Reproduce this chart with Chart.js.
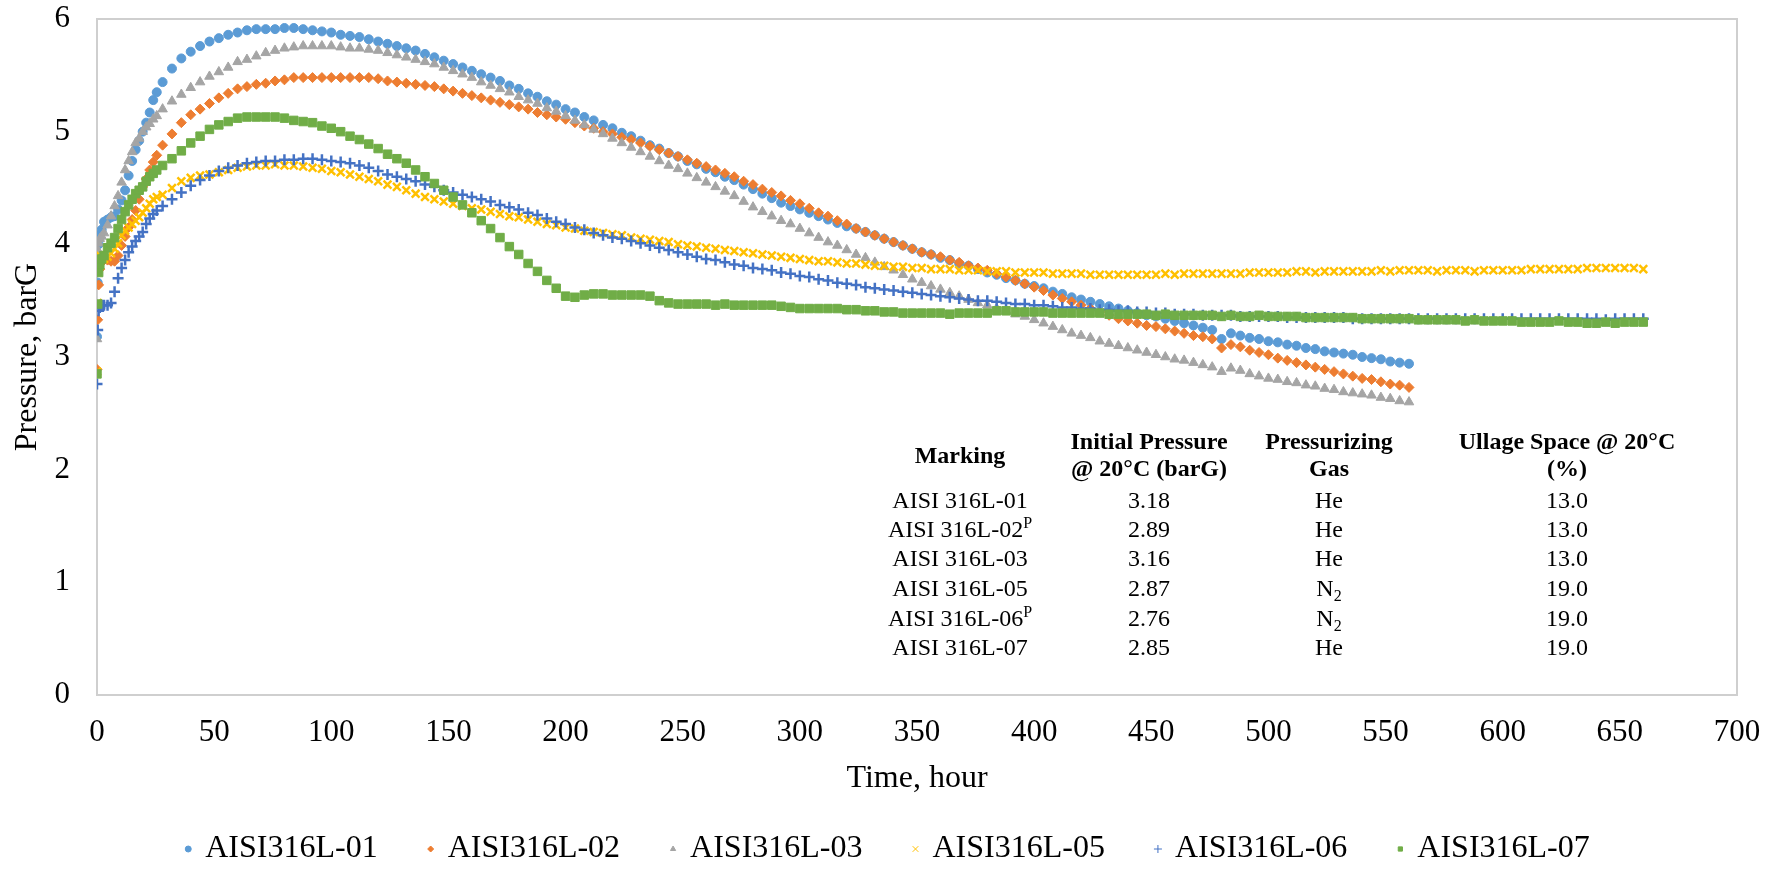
<!DOCTYPE html>
<html lang="en">
<head>
<meta charset="UTF-8">
<title>AISI 316L - Pressure vs Time</title>
<script src="https://cdn.jsdelivr.net/npm/chart.js"></script>
<style>
  html, body { margin: 0; padding: 0; background: #fff; }
  #wrap { width: 1778px; height: 872px; }
</style>
</head>
<body>
<div id="wrap"><canvas id="chart" width="1778" height="872"></canvas></div>
<script>
// sampling times in hours (shared by all series; 01-03 stop at 560 h)
const hours = [
  0, 0.3, 0.7, 1.2, 2, 3, 4.5, 6, 7.5, 9, 10.5, 12, 13.5, 15, 16.5, 18, 19.5, 21, 22.5, 24, 25.5,
  28, 32, 36, 40, 44, 48, 52, 56, 60, 64,
  68, 72, 76, 80, 84, 88, 92, 96, 100, 104,
  108, 112, 116, 120, 124, 128, 132, 136, 140, 144,
  148, 152, 156, 160, 164, 168, 172, 176, 180, 184,
  188, 192, 196, 200, 204, 208, 212, 216, 220, 224,
  228, 232, 236, 240, 244, 248, 252, 256, 260, 264,
  268, 272, 276, 280, 284, 288, 292, 296, 300, 304,
  308, 312, 316, 320, 324, 328, 332, 336, 340, 344,
  348, 352, 356, 360, 364, 368, 372, 376, 380, 384,
  388, 392, 396, 400, 404, 408, 412, 416, 420, 424,
  428, 432, 436, 440, 444, 448, 452, 456, 460, 464,
  468, 472, 476, 480, 484, 488, 492, 496, 500, 504,
  508, 512, 516, 520, 524, 528, 532, 536, 540, 544,
  548, 552, 556, 560, 564, 568, 572, 576, 580, 584,
  588, 592, 596, 600, 604, 608, 612, 616, 620, 624,
  628, 632, 636, 640, 644, 648, 652, 656, 660
];

const seriesNames = ['AISI316L-01', 'AISI316L-02', 'AISI316L-03', 'AISI316L-05', 'AISI316L-06', 'AISI316L-07'];

// pressure, barG
const p01 = [
  3.18, 3.66, 4.00, 4.08, 4.13, 4.20, 4.22, 4.24, 4.25, 4.31, 4.39, 4.48, 4.61, 4.74, 4.84, 4.92, 5.00, 5.08, 5.17, 5.28, 5.35,
  5.44, 5.56, 5.65, 5.71, 5.76, 5.80, 5.83, 5.86, 5.88, 5.90,
  5.91, 5.91, 5.91, 5.92, 5.92, 5.91, 5.90, 5.89, 5.88, 5.86,
  5.85, 5.84, 5.82, 5.80, 5.78, 5.76, 5.74, 5.72, 5.69, 5.66,
  5.63, 5.60, 5.57, 5.54, 5.51, 5.48, 5.45, 5.41, 5.38, 5.34,
  5.31, 5.27, 5.24, 5.20, 5.17, 5.13, 5.10, 5.06, 5.03, 4.99,
  4.96, 4.92, 4.88, 4.85, 4.81, 4.78, 4.74, 4.71, 4.67, 4.64,
  4.60, 4.57, 4.53, 4.49, 4.45, 4.41, 4.37, 4.34, 4.31, 4.28,
  4.25, 4.22, 4.19, 4.16, 4.14, 4.11, 4.08, 4.05, 4.02, 3.99,
  3.96, 3.93, 3.91, 3.88, 3.86, 3.83, 3.81, 3.78, 3.75, 3.73,
  3.70, 3.68, 3.65, 3.63, 3.61, 3.58, 3.56, 3.53, 3.51, 3.49,
  3.47, 3.45, 3.43, 3.41, 3.39, 3.37, 3.36, 3.34, 3.32, 3.30,
  3.28, 3.26, 3.24, 3.16, 3.21, 3.19, 3.17, 3.16, 3.14, 3.13,
  3.11, 3.10, 3.08, 3.07, 3.05, 3.04, 3.03, 3.02, 3.00, 2.99,
  2.98, 2.96, 2.95, 2.94
];
const p02 = [
  2.89, 3.33, 3.64, 3.78, 3.84, 3.87, 3.86, 3.85, 3.85, 3.90, 3.99, 4.07, 4.15, 4.22, 4.30, 4.40, 4.51, 4.58, 4.66, 4.73, 4.79,
  4.88, 4.98, 5.08, 5.15, 5.20, 5.25, 5.30, 5.34, 5.38, 5.40,
  5.42, 5.43, 5.45, 5.46, 5.48, 5.48, 5.48, 5.48, 5.48, 5.48,
  5.48, 5.48, 5.48, 5.47, 5.45, 5.44, 5.43, 5.42, 5.41, 5.40,
  5.38, 5.36, 5.34, 5.32, 5.30, 5.28, 5.26, 5.24, 5.22, 5.20,
  5.17, 5.15, 5.13, 5.11, 5.08, 5.05, 5.03, 5.00, 4.98, 4.95,
  4.93, 4.90, 4.87, 4.84, 4.81, 4.78, 4.75, 4.72, 4.69, 4.66,
  4.63, 4.60, 4.56, 4.53, 4.49, 4.46, 4.43, 4.39, 4.36, 4.32,
  4.28, 4.25, 4.21, 4.18, 4.14, 4.11, 4.08, 4.05, 4.02, 3.99,
  3.96, 3.93, 3.91, 3.89, 3.86, 3.84, 3.81, 3.79, 3.77, 3.74,
  3.71, 3.68, 3.65, 3.62, 3.59, 3.55, 3.52, 3.49, 3.46, 3.43,
  3.40, 3.37, 3.34, 3.32, 3.30, 3.28, 3.27, 3.25, 3.23, 3.21,
  3.19, 3.18, 3.16, 3.08, 3.11, 3.09, 3.06, 3.04, 3.02, 2.99,
  2.97, 2.95, 2.93, 2.91, 2.89, 2.87, 2.85, 2.83, 2.81, 2.80,
  2.78, 2.76, 2.75, 2.73
];
const p03 = [
  3.16, 3.95, 4.01, 4.05, 4.07, 4.10, 4.17, 4.25, 4.34, 4.43, 4.55, 4.66, 4.74, 4.82, 4.90, 4.94, 5.00, 5.04, 5.07, 5.11, 5.14,
  5.20, 5.27, 5.33, 5.39, 5.44, 5.49, 5.53, 5.57, 5.62, 5.64,
  5.67, 5.70, 5.72, 5.74, 5.75, 5.76, 5.76, 5.76, 5.76, 5.75,
  5.74, 5.74, 5.73, 5.72, 5.70, 5.68, 5.66, 5.64, 5.62, 5.60,
  5.57, 5.54, 5.51, 5.48, 5.44, 5.41, 5.38, 5.35, 5.31, 5.28,
  5.25, 5.21, 5.18, 5.14, 5.10, 5.06, 5.02, 4.98, 4.94, 4.90,
  4.86, 4.82, 4.78, 4.74, 4.70, 4.67, 4.63, 4.59, 4.55, 4.51,
  4.47, 4.43, 4.38, 4.33, 4.29, 4.25, 4.21, 4.18, 4.14, 4.10,
  4.06, 4.02, 3.99, 3.95, 3.91, 3.88, 3.84, 3.80, 3.77, 3.73,
  3.69, 3.66, 3.63, 3.60, 3.57, 3.54, 3.51, 3.48, 3.46, 3.43,
  3.41, 3.38, 3.36, 3.33, 3.30, 3.27, 3.24, 3.21, 3.19, 3.17,
  3.14, 3.12, 3.10, 3.08, 3.06, 3.04, 3.02, 3.00, 2.98, 2.97,
  2.95, 2.93, 2.91, 2.87, 2.90, 2.88, 2.85, 2.83, 2.81, 2.80,
  2.78, 2.77, 2.75, 2.74, 2.72, 2.71, 2.69, 2.68, 2.67, 2.66,
  2.64, 2.63, 2.61, 2.60
];
const p05 = [
  2.87, 3.48, 3.80, 3.90, 3.88, 3.87, 3.89, 3.92, 3.96, 4.01, 4.08, 4.12, 4.15, 4.18, 4.21, 4.24, 4.28, 4.32, 4.36, 4.40, 4.42,
  4.44, 4.50, 4.56, 4.59, 4.61, 4.62, 4.64, 4.66, 4.68, 4.69,
  4.70, 4.70, 4.71, 4.70, 4.70, 4.69, 4.68, 4.67, 4.65, 4.64,
  4.62, 4.60, 4.58, 4.56, 4.53, 4.51, 4.48, 4.45, 4.42, 4.40,
  4.38, 4.36, 4.34, 4.32, 4.31, 4.29, 4.27, 4.25, 4.24, 4.22,
  4.20, 4.18, 4.17, 4.15, 4.14, 4.12, 4.11, 4.10, 4.09, 4.08,
  4.06, 4.05, 4.04, 4.03, 4.02, 4.00, 3.99, 3.98, 3.97, 3.96,
  3.95, 3.94, 3.93, 3.92, 3.91, 3.90, 3.89, 3.88, 3.87, 3.86,
  3.85, 3.85, 3.84, 3.83, 3.83, 3.82, 3.81, 3.81, 3.80, 3.80,
  3.79, 3.79, 3.78, 3.78, 3.78, 3.77, 3.77, 3.77, 3.76, 3.76,
  3.76, 3.75, 3.75, 3.75, 3.75, 3.74, 3.74, 3.74, 3.74, 3.73,
  3.73, 3.73, 3.73, 3.73, 3.73, 3.73, 3.73, 3.74, 3.73, 3.74,
  3.74, 3.74, 3.74, 3.74, 3.74, 3.74, 3.75, 3.75, 3.75, 3.75,
  3.75, 3.76, 3.76, 3.75, 3.76, 3.76, 3.76, 3.76, 3.76, 3.76,
  3.77, 3.76, 3.77, 3.77, 3.77, 3.77, 3.76, 3.77, 3.77, 3.77,
  3.76, 3.77, 3.77, 3.77, 3.77, 3.77, 3.78, 3.78, 3.78, 3.78,
  3.78, 3.78, 3.79, 3.79, 3.79, 3.79, 3.79, 3.79, 3.78
];
const p06 = [
  2.76, 3.24, 3.41, 3.44, 3.46, 3.46, 3.46, 3.48, 3.58, 3.70, 3.79, 3.86, 3.93, 3.98, 4.03, 4.07, 4.11, 4.18, 4.23, 4.27, 4.30,
  4.34, 4.40, 4.46, 4.52, 4.57, 4.61, 4.65, 4.68, 4.70, 4.72,
  4.73, 4.74, 4.74, 4.75, 4.75, 4.76, 4.76, 4.75, 4.74, 4.73,
  4.72, 4.70, 4.68, 4.65, 4.62, 4.60, 4.58, 4.56, 4.53, 4.51,
  4.48, 4.46, 4.44, 4.42, 4.40, 4.38, 4.35, 4.33, 4.31, 4.28,
  4.26, 4.23, 4.20, 4.18, 4.15, 4.13, 4.10, 4.08, 4.06, 4.05,
  4.03, 4.01, 3.99, 3.97, 3.95, 3.93, 3.91, 3.89, 3.87, 3.86,
  3.84, 3.82, 3.81, 3.79, 3.78, 3.77, 3.75, 3.74, 3.72, 3.71,
  3.69, 3.68, 3.66, 3.65, 3.64, 3.62, 3.61, 3.60, 3.59, 3.58,
  3.57, 3.56, 3.55, 3.54, 3.53, 3.52, 3.51, 3.50, 3.50, 3.49,
  3.48, 3.47, 3.47, 3.46, 3.46, 3.45, 3.44, 3.44, 3.43, 3.43,
  3.42, 3.42, 3.41, 3.41, 3.40, 3.40, 3.39, 3.39, 3.38, 3.38,
  3.38, 3.37, 3.37, 3.37, 3.37, 3.36, 3.36, 3.36, 3.36, 3.36,
  3.35, 3.35, 3.35, 3.35, 3.35, 3.35, 3.35, 3.34, 3.34, 3.34,
  3.34, 3.34, 3.34, 3.34, 3.34, 3.34, 3.34, 3.34, 3.34, 3.34,
  3.34, 3.34, 3.34, 3.34, 3.34, 3.34, 3.34, 3.34, 3.34, 3.34,
  3.34, 3.34, 3.34, 3.34, 3.33, 3.34, 3.34, 3.34, 3.34
];
const p07 = [
  2.85, 3.47, 3.75, 3.82, 3.87, 3.90, 3.97, 4.01, 4.06, 4.14, 4.22, 4.29, 4.35, 4.40, 4.45, 4.48, 4.51, 4.56, 4.60, 4.63, 4.66,
  4.70, 4.76, 4.83, 4.90, 4.96, 5.02, 5.06, 5.09, 5.12, 5.13,
  5.13, 5.13, 5.13, 5.12, 5.10, 5.09, 5.08, 5.05, 5.03, 5.00,
  4.96, 4.93, 4.89, 4.85, 4.80, 4.76, 4.72, 4.66, 4.60, 4.54,
  4.48, 4.42, 4.35, 4.28, 4.21, 4.14, 4.06, 3.98, 3.91, 3.83,
  3.76, 3.68, 3.61, 3.54, 3.53, 3.55, 3.56, 3.56, 3.55, 3.55,
  3.55, 3.55, 3.54, 3.50, 3.48, 3.47, 3.47, 3.47, 3.47, 3.46,
  3.47, 3.46, 3.46, 3.46, 3.46, 3.46, 3.45, 3.44, 3.43, 3.43,
  3.43, 3.43, 3.43, 3.42, 3.42, 3.41, 3.41, 3.40, 3.40, 3.39,
  3.39, 3.39, 3.39, 3.39, 3.38, 3.39, 3.39, 3.39, 3.39, 3.41,
  3.41, 3.40, 3.40, 3.40, 3.40, 3.39, 3.39, 3.39, 3.39, 3.39,
  3.39, 3.38, 3.38, 3.38, 3.38, 3.38, 3.37, 3.38, 3.37, 3.37,
  3.37, 3.37, 3.37, 3.36, 3.37, 3.36, 3.36, 3.37, 3.36, 3.36,
  3.36, 3.36, 3.35, 3.35, 3.35, 3.35, 3.35, 3.35, 3.34, 3.34,
  3.34, 3.34, 3.34, 3.34, 3.33, 3.33, 3.33, 3.33, 3.33, 3.32,
  3.33, 3.32, 3.32, 3.32, 3.32, 3.31, 3.31, 3.31, 3.31, 3.32,
  3.31, 3.31, 3.30, 3.30, 3.31, 3.30, 3.31, 3.31, 3.31
];

// inset table
const tableHead = [['Marking'], ['Initial Pressure', '@ 20°C (barG)'], ['Pressurizing', 'Gas'], ['Ullage Space @ 20°C', '(%)']];
const markings = ['AISI 316L-01', 'AISI 316L-02^P', 'AISI 316L-03', 'AISI 316L-05', 'AISI 316L-06^P', 'AISI 316L-07'];
const initialPressures = ['3.18', '2.89', '3.16', '2.87', '2.76', '2.85'];
const gases = ['He', 'He', 'He', 'N_2', 'N_2', 'He'];
const ullage = ['13.0', '13.0', '13.0', '19.0', '19.0', '19.0'];

const FONT = "'Liberation Serif', 'Times New Roman', serif";
const colors = ['#5B9BD5', '#ED7D31', '#A5A5A5', '#FFC000', '#4472C4', '#70AD47'];
const markers = ['circle', 'rectRot', 'triangle', 'crossRot', 'cross', 'rect'];
const radii = [4.5, 5, 5.5, 5.5, 5.5, 6];
const allSeries = [p01, p02, p03, p05, p06, p07];

// text with an optional ^superscript or _subscript tail, centred on cx
function drawRich(ctx, text, cx, cy, size, bold) {
  const f = s => (bold ? 'bold ' : '') + s + 'px ' + FONT;
  const m = text.match(/^(.*?)([\^_])(.+)$/);
  ctx.textBaseline = 'middle';
  if (!m) {
    ctx.font = f(size);
    ctx.textAlign = 'center';
    ctx.fillText(text, cx, cy);
    return;
  }
  const small = Math.round(size * 0.66);
  ctx.font = f(size);
  const wb = ctx.measureText(m[1]).width;
  ctx.font = f(small);
  const ws = ctx.measureText(m[3]).width;
  const x0 = cx - (wb + ws) / 2;
  ctx.textAlign = 'left';
  ctx.font = f(size);
  ctx.fillText(m[1], x0, cy);
  ctx.font = f(small);
  ctx.fillText(m[3], x0 + wb, cy + (m[2] === '^' ? -size * 0.3 : size * 0.28));
}

const plotFrame = {
  id: 'plotFrame',
  beforeDatasetsDraw(chart) {
    const {ctx, chartArea: a} = chart;
    ctx.save();
    ctx.strokeStyle = '#cfcfcf';
    ctx.lineWidth = 2;
    ctx.strokeRect(a.left, a.top, a.right - a.left, a.bottom - a.top);
    ctx.restore();
  }
};

const insetTable = {
  id: 'insetTable',
  afterDatasetsDraw(chart) {
    const ctx = chart.ctx;
    const colX = [960, 1149, 1329, 1567];
    const rowY = [502, 531, 560, 590, 620, 649];
    ctx.save();
    ctx.fillStyle = '#000';
    tableHead.forEach((lines, c) => {
      if (lines.length === 1) drawRich(ctx, lines[0], colX[c], 457, 24, true);
      else lines.forEach((ln, k) => drawRich(ctx, ln, colX[c], 443 + k * 27, 24, true));
    });
    const cols = [markings, initialPressures, gases, ullage];
    cols.forEach((col, c) => col.forEach((t, r) => drawRich(ctx, t, colX[c], rowY[r], 24, false)));
    ctx.restore();
  }
};

const bottomLegend = {
  id: 'bottomLegend',
  afterDraw(chart) {
    const ctx = chart.ctx;
    const ds = chart.data.datasets;
    const gap = 17, spacing = 53, y = 849;
    ctx.save();
    ctx.font = '32px ' + FONT;
    ctx.textBaseline = 'middle';
    ctx.textAlign = 'left';
    const widths = ds.map(d => ctx.measureText(d.label).width);
    const total = widths.reduce((s, w) => s + gap + w, 0) + spacing * (ds.length - 1);
    let x = (chart.width - total) / 2;
    ds.forEach((d, i) => {
      ctx.fillStyle = d.pointBackgroundColor;
      ctx.strokeStyle = d.pointBorderColor;
      const cross = d.pointStyle.startsWith('cross');
      Chart.helpers.drawPoint(ctx, {
        pointStyle: d.pointStyle,
        radius: cross ? 4 : 3,
        rotation: 0,
        borderWidth: cross ? 1.5 : 1
      }, x, y);
      ctx.fillStyle = '#000';
      ctx.fillText(d.label, x + gap, y);
      x += gap + widths[i] + spacing;
    });
    ctx.restore();
  }
};

new Chart(document.getElementById('chart'), {
  type: 'scatter',
  data: {
    datasets: allSeries.map((vals, i) => ({
      label: seriesNames[i],
      data: vals.map((v, k) => ({x: hours[k], y: v})),
      showLine: false,
      pointStyle: markers[i],
      pointRadius: radii[i],
      pointHoverRadius: radii[i],
      pointBackgroundColor: colors[i],
      pointBorderColor: colors[i],
      pointBorderWidth: markers[i].startsWith('cross') ? 2.5 : 1,
      order: allSeries.length - i
    }))
  },
  options: {
    responsive: false,
    animation: false,
    devicePixelRatio: 1,
    layout: { padding: { left: 0, top: 19, right: 41, bottom: 77 } },
    plugins: {
      legend: { display: false },
      tooltip: { enabled: false }
    },
    scales: {
      x: {
        type: 'linear',
        min: 0,
        max: 700,
        ticks: { stepSize: 50, color: '#000', padding: 2.5, font: { family: FONT, size: 31, lineHeight: 1 } },
        grid: { drawOnChartArea: false, drawTicks: true, tickLength: 20, tickColor: 'rgba(0,0,0,0)' },
        border: { display: false },
        title: { display: true, text: 'Time, hour', color: '#000', font: { family: FONT, size: 32, lineHeight: 1 }, padding: { top: 12, bottom: 0 } }
      },
      y: {
        min: 0,
        max: 6,
        ticks: { stepSize: 1, color: '#000', padding: 3, font: { family: FONT, size: 31, lineHeight: 1 } },
        grid: { drawOnChartArea: false, drawTicks: true, tickLength: 24, tickColor: 'rgba(0,0,0,0)' },
        border: { display: false },
        title: { display: true, text: 'Pressure, barG', color: '#000', font: { family: FONT, size: 32, lineHeight: 1 }, padding: { top: 12, bottom: 7.5 } }
      }
    }
  },
  plugins: [plotFrame, insetTable, bottomLegend]
});
</script>
</body>
</html>
